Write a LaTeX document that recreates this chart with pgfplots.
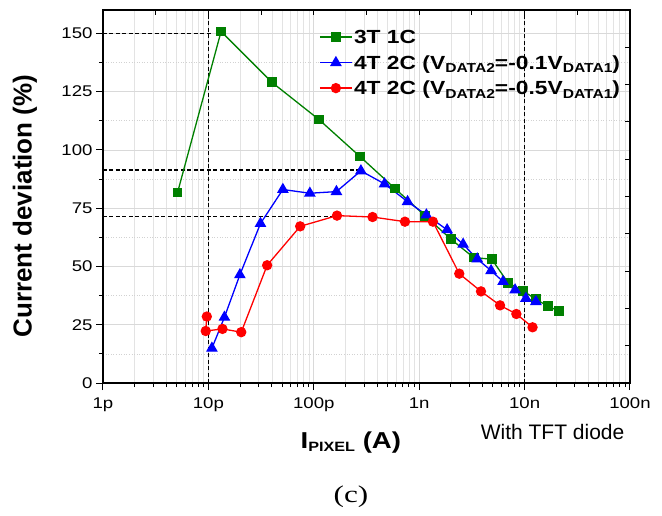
\documentclass[border=0pt]{standalone}
\usepackage{pgfplots}
\pgfplotsset{compat=1.18}
\usepackage{fontspec}
\setmainfont{Liberation Sans}
\newfontfamily\wide[FakeStretch=1.2]{Liberation Sans}
\newfontfamily\serifw[FakeStretch=1.3]{Liberation Serif}
\definecolor{cgreen}{RGB}{0,128,0}
\definecolor{cblue}{RGB}{0,0,255}
\definecolor{cred}{RGB}{255,0,0}
\newcommand{\sub}[2]{\raisebox{-3.3bp}{\fontsize{#1}{#1}\selectfont #2}}
\newcommand{\lstrut}{\rule[-4.5bp]{0pt}{22.5bp}}
\begin{document}
\begin{tikzpicture}
\useasboundingbox (-103bp,-133bp) rectangle (559bp,383bp);
\begin{axis}[
  at={(0,0)}, anchor=south west,
  scale only axis, width=527bp, height=373bp,
  clip=false,
  xmode=log, xmin=1e-12, xmax=1e-7, ymin=0, ymax=160,
  xtick={1e-12,1e-11,1e-10,1e-9,1e-8,1e-7},
  xticklabels={1p,10p,100p,1n,10n,100n},
  ytick={0,25,...,150},
  minor y tick num=1,
  xtick pos=left, ytick pos=left,
  tick align=outside,
  major tick length=7bp, minor tick length=4bp,
  every tick/.style={black, line width=1bp},
  axis line style={line width=1.3bp},
  grid=both,
  major grid style={gray!30, line width=0.7bp, solid},
  minor x grid style={gray!22, line width=0.6bp, solid},
  minor y grid style={gray!35, line width=0.6bp, dotted},
  /pgf/number format/assume math mode=true,
  xticklabel style={font=\wide\fontsize{15.5bp}{18bp}\selectfont, yshift=-4bp},
  yticklabel style={font=\wide\fontsize{15.5bp}{18bp}\selectfont},
  xlabel={I\sub{13.5bp}{PIXEL} (A)},
  xlabel style={font=\wide\bfseries\fontsize{23bp}{26bp}\selectfont, at={(axis description cs:0.4703,-0.1743)}, anchor=base},
  ylabel={Current deviation (\%)},
  ylabel style={font=\bfseries\fontsize{26bp}{30bp}\selectfont, at={(axis description cs:-0.148,0.4745)}, anchor=center},
  legend style={draw=none, fill=none, at={(axis description cs:0.410,0.962)}, anchor=north west,
    font=\wide\bfseries\fontsize{19bp}{22bp}\selectfont, inner sep=0pt,
    nodes={inner sep=1.5bp, text depth=}},
  legend cell align=left,
  legend image code/.code={\draw[#1, mark repeat=2, mark phase=2] plot coordinates {(0bp,0bp) (16bp,0bp) (32bp,0bp)};},
]
% reference dashed lines
\addplot[forget plot, black, line width=1.5bp, dash pattern=on 4bp off 2.5bp] coordinates {(1e-11,0) (1e-11,160)};
\addplot[forget plot, black, line width=1.4bp, dash pattern=on 4bp off 2.5bp] coordinates {(1e-8,0) (1e-8,160)};
\addplot[forget plot, black, line width=1.3bp, dash pattern=on 4bp off 2.5bp] coordinates {(1e-12,150) (1.1e-11,150)};
\addplot[forget plot, black, line width=1.3bp, dash pattern=on 4bp off 2.5bp] coordinates {(1e-12,91.4) (2.8e-10,91.4)};
\addplot[forget plot, black, line width=1.3bp, dash pattern=on 4bp off 2.5bp] coordinates {(1e-12,71.4) (1.66e-10,71.4)};

\addplot[cgreen, line width=1.3bp, mark=square*, mark size=4.2bp, mark options={solid, fill=cgreen}] coordinates {
(5.1e-12,81.7) (1.32e-11,150.8) (4.0e-11,129) (1.12e-10,113) (2.75e-10,97.1)
(5.9e-10,83.4) (1.14e-9,71.7) (2.0e-9,61.7) (3.29e-9,53.8) (4.88e-9,53.1)
(6.97e-9,43.0) (9.7e-9,39.5) (1.28e-8,35.9) (1.67e-8,32.9) (2.11e-8,30.9)};
\addlegendentry{\lstrut 3T 1C}

\addplot[cblue, line width=1.3bp, mark=triangle*, mark size=5.5bp, mark options={solid, fill=cblue}] coordinates {
(1.08e-11,14.9) (1.42e-11,28.2) (1.99e-11,46.4) (3.12e-11,68.4) (5.09e-11,83.0)
(9.18e-11,81.4) (1.64e-10,82.1) (2.80e-10,91.0) (4.69e-10,85.4) (7.76e-10,77.8)
(1.17e-9,72.1) (1.84e-9,65.7) (2.61e-9,59.5) (3.56e-9,53.2) (4.81e-9,48.2)
(6.25e-9,43.5) (8.13e-9,39.9) (1.03e-8,36.3) (1.28e-8,34.9)};
\addlegendentry{\lstrut 4T 2C (V\sub{13bp}{DATA2}=-0.1V\sub{13bp}{DATA1})}

\addplot[cred, line width=1.3bp, mark=*, mark size=4.5bp, mark options={solid, fill=cred}] coordinates {
(9.66e-12,28.5) (9.44e-12,22.3) (1.36e-11,23.2) (2.05e-11,21.8) (3.61e-11,50.5)
(7.43e-11,67.2) (1.66e-10,71.8) (3.61e-10,71.2) (7.33e-10,69.2) (1.35e-9,69.2)
(2.40e-9,46.9) (3.86e-9,39.3) (5.85e-9,33.3) (8.36e-9,29.6) (1.19e-8,23.9)};
\addlegendentry{\lstrut 4T 2C (V\sub{13bp}{DATA2}=-0.5V\sub{13bp}{DATA1})}

\node[font=\fontsize{21bp}{24bp}\selectfont, anchor=base east] at (axis description cs:0.996,-0.1528) {With TFT diode};
\node[font=\serifw\fontsize{24bp}{28bp}\selectfont, anchor=base] at (axis description cs:0.4706,-0.3217) {(c)};
\end{axis}
\begin{axis}[
  at={(0,0)}, anchor=south west,
  scale only axis, width=527bp, height=373bp,
  xmode=log, xmin=1e-12, xmax=1e-7, ymin=0, ymax=160,
  xtick={1e-12,3.1623e-12,1e-11,3.1623e-11,1e-10,3.1623e-10,1e-9,3.1623e-9,1e-8,3.1623e-8,1e-7},
  ytick={0,16,...,160},
  xticklabels={}, yticklabels={},
  xtick pos=right, ytick pos=right,
  tick align=inside,
  major tick length=5.5bp,
  xminorticks=false, yminorticks=false,
  axis line style={draw=none},
  every tick/.style={black, line width=1bp},
]
\addplot[draw=none, forget plot] coordinates {(1e-10,50)};
\end{axis}
\end{tikzpicture}
\end{document}
